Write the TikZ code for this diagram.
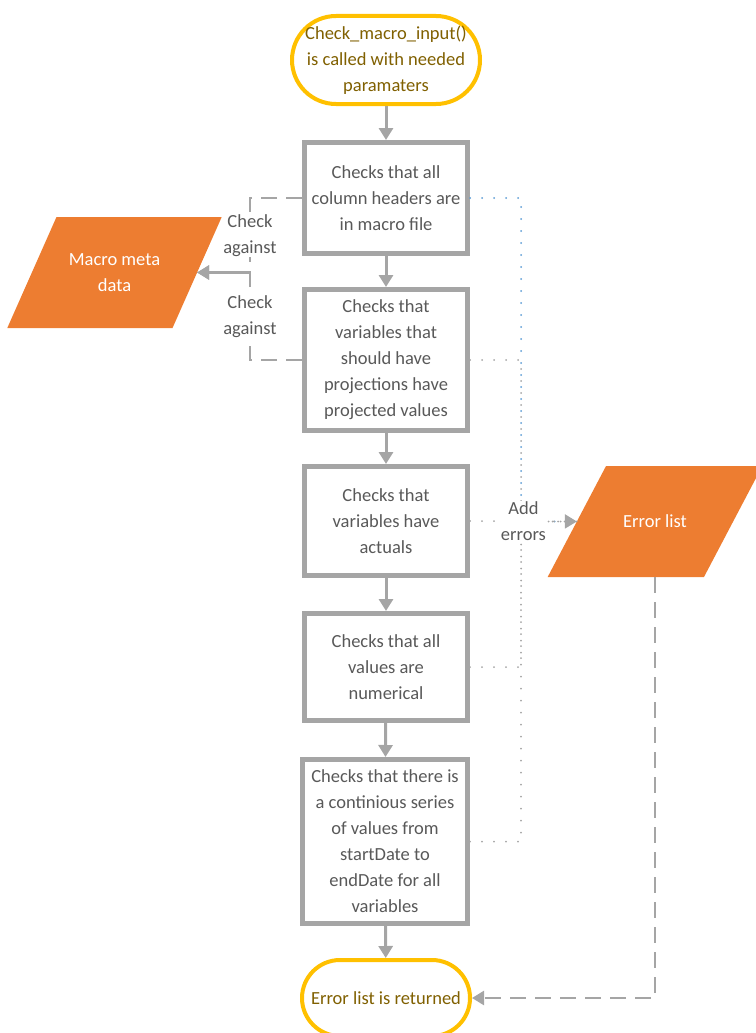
\documentclass[tikz,border=0pt]{standalone}
\usepackage{fontspec}
\setmainfont{Carlito}
\usetikzlibrary{arrows.meta,shapes.geometric}

\definecolor{boxgray}{HTML}{A5A5A5}
\definecolor{txtgray}{HTML}{595959}
\definecolor{gold}{HTML}{FFC000}
\definecolor{goldtext}{HTML}{806000}
\definecolor{dataorange}{HTML}{ED7D31}
\definecolor{dotblue}{HTML}{5B9BD5}

\begin{document}
\begin{tikzpicture}[x=1pt,y=-1pt,
	font=\fontsize{18.5}{26}\selectfont,
	check/.style={draw=boxgray, line width=5pt, fill=white, text=txtgray, align=center, minimum width=163pt, inner sep=2pt},
	term/.style={draw=gold, line width=4pt, fill=white, text=goldtext, align=center, inner sep=1pt},
	data/.style={trapezium, trapezium left angle=66.6, trapezium right angle=113.4, trapezium stretches=true, fill=dataorange, text=white, align=center, minimum width=215pt, minimum height=111pt, outer sep=0pt},
	flow/.style={draw=boxgray, line width=3pt, -{Triangle[width=14pt,length=12pt]}},
	dashcon/.style={draw=boxgray, line width=2.5pt, dash pattern=on 16pt off 9pt, -{Triangle[width=14pt,length=12pt]}},
	dotcon/.style={draw=boxgray, line width=2pt, line cap=round, dash pattern=on 0pt off 12pt},
	lbl/.style={fill=white, text=txtgray, align=center, inner sep=1pt}]

	\useasboundingbox (0,0) rectangle (755,1033);

	\node[term, minimum width=188pt, minimum height=88pt, rounded corners=44pt] (start) at (386,60)
		{Check\_macro\_input()\\is called with needed\\paramaters};
	\node[check, minimum height=111pt] (b1) at (386,198) {Checks that all\\column headers are\\in macro file};
	\node[check, minimum height=141pt] (b2) at (386,360) {Checks that\\variables that\\should have\\projections have\\projected values};
	\node[check, minimum height=109pt] (b3) at (386,521) {Checks that\\variables have\\actuals};
	\node[check, minimum height=107pt] (b4) at (386,667) {Checks that all\\values are\\numerical};
	\node[check, minimum height=164pt, minimum width=165pt] (b5) at (385,841.5) {Checks that there is\\a continious series\\of values from\\startDate to\\endDate for all\\variables};
	\node[term, minimum width=168pt, minimum height=76pt, rounded corners=38pt] (end) at (386,998)
		{Error list is returned};

	\node[data, inner ysep=29pt] (macro) at (114.5,272.5) {Macro meta\\data};
	\node[data, inner ysep=42pt] (err) at (655,521.5) {Error list};

	% main flow
	\draw[flow] (start) -- (b1);
	\draw[flow] (b1) -- (b2);
	\draw[flow] (b2) -- (b3);
	\draw[flow] (b3) -- (b4);
	\draw[flow] (b4) -- (b5);
	\draw[flow] (b5) -- (end);

	% checks against the meta data
	\draw[dashcon] (b1.west) -- ++(-52,0) |- node[pos=0.25, lbl]{Check\\against} (macro.east);
	\draw[dashcon] (b2.west) -- ++(-52,0) |- node[pos=0.25, lbl]{Check\\against} (macro.east);

	% errors collected
	\draw[dotcon, draw=dotblue] (b1.east) -- ++(51,0) |- (err.west);
	\draw[dotcon] (b2.east) -- ++(51,0) |- (err.west);
	\draw[dotcon] (b4.east) -- ++(51,0) |- (err.west);
	\draw[dotcon] (b5.east) -- ++(51,0) |- (err.west);
	\draw[dotcon, -{Triangle[width=14pt,length=12pt]}] (b3.east) -- node[lbl]{Add\\errors} (err.west);

	% list handed back
	\draw[dashcon] (err.center |- err.south) |- (end.east);

\end{tikzpicture}
\end{document}
